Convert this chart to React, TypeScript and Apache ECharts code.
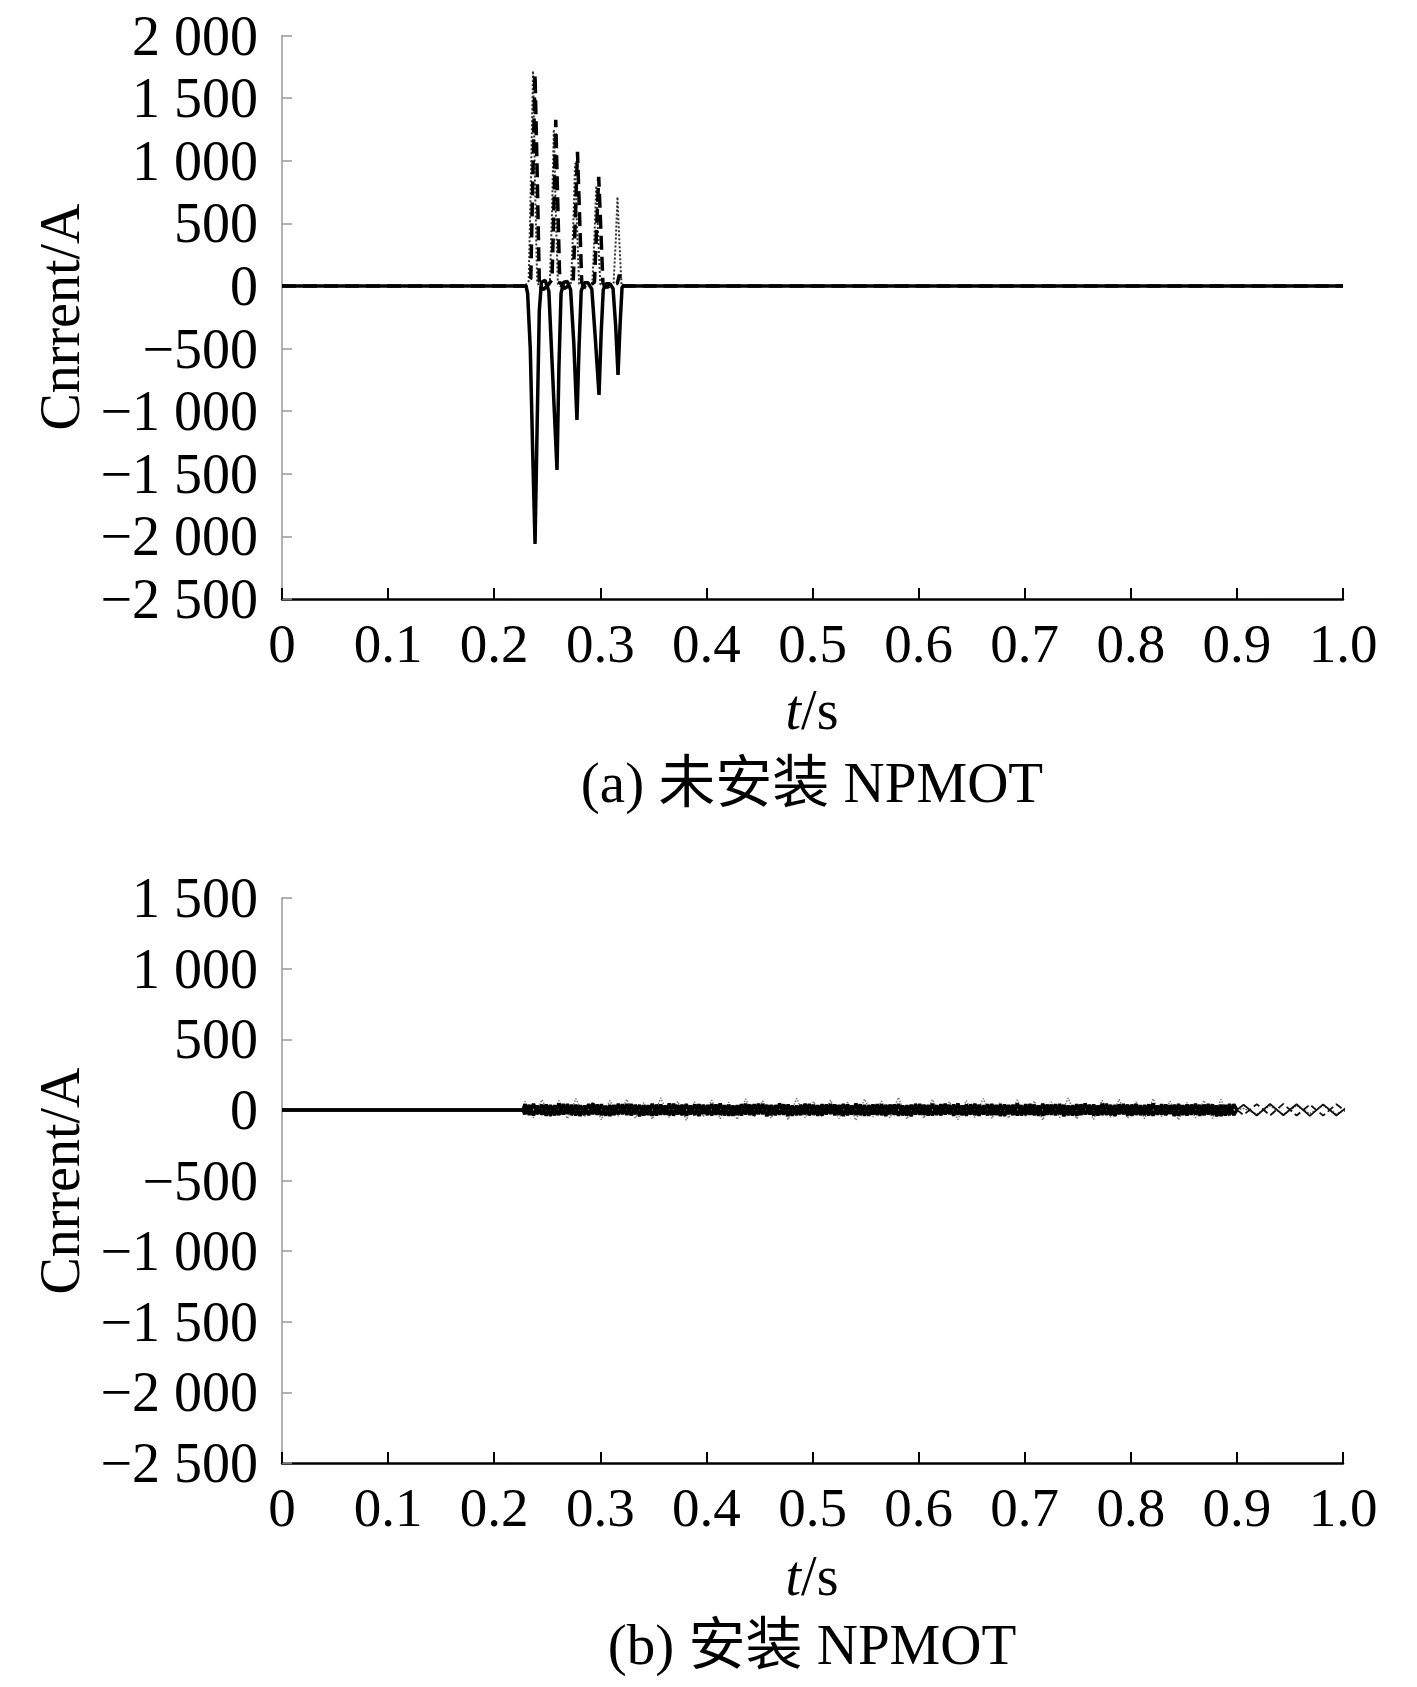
import React, { useEffect, useRef } from "react";
import * as echarts from "echarts";

// ---------- (a) without NPMOT : phase currents [t (s), I (A)] ----------
const TOP_SOLID: [number, number][] = [
  [0, 0], [0.230, 0], [0.2315, -60], [0.2340, -500], [0.2362, -1300], [0.2385, -2060], [0.2405, -1100],
  [0.2425, -200], [0.2445, 30], [0.2480, 45], [0.2515, -40], [0.2545, -600], [0.2592, -1470], [0.2610, -650],
  [0.2630, -60], [0.2655, 30], [0.2690, 35], [0.2720, -30], [0.2750, -450], [0.2780, -1070], [0.2800, -480],
  [0.2820, -40], [0.2850, 25], [0.2885, 25], [0.2920, -25], [0.2950, -380], [0.2988, -870], [0.3008, -380],
  [0.3028, -30], [0.3055, 18], [0.3090, 18], [0.3120, -20], [0.3145, -320], [0.3167, -710], [0.3187, -300],
  [0.3205, -10], [0.3225, 0], [1.0, 0],
];
const TOP_DASHED: [number, number][] = [
  [0, 0], [0.230, 0], [0.2345, 60], [0.2365, 900], [0.2385, 1690], [0.2405, 900], [0.2425, 40], [0.2460, -30],
  [0.2500, 0], [0.2545, 50], [0.2565, 700], [0.2580, 1326], [0.2598, 700], [0.2618, 30], [0.2660, -20],
  [0.2700, 0], [0.2745, 40], [0.2765, 550], [0.2785, 1071], [0.2805, 550], [0.2825, 25], [0.2860, -15],
  [0.2900, 0], [0.2945, 30], [0.2965, 450], [0.2985, 871], [0.3005, 450], [0.3025, 20], [0.3060, -10],
  [0.3100, 0], [0.3160, 20], [0.3180, 90], [0.3200, 10], [0.3220, 0], [1.0, 0],
];
const TOP_DOTTED: [number, number][] = [
  [0, 0], [0.229, 0], [0.2325, 40], [0.2345, 800], [0.2366, 1718], [0.2385, 800], [0.2405, 30], [0.2440, -25],
  [0.2480, 0], [0.2525, 30], [0.2545, 600], [0.2562, 1250], [0.2580, 600], [0.2600, 20], [0.2640, -15],
  [0.2680, 0], [0.2725, 25], [0.2745, 480], [0.2762, 980], [0.2780, 480], [0.2800, 20], [0.2840, -12],
  [0.2880, 0], [0.2925, 20], [0.2945, 400], [0.2962, 800], [0.2980, 400], [0.3000, 15], [0.3040, -8],
  [0.3080, 0], [0.3125, 20], [0.3145, 350], [0.3162, 711], [0.3180, 350], [0.3200, 10], [0.3230, 0], [1.0, 0],
];

// ---------- (b) with NPMOT ----------
const BAND_T0 = 0.229; // first sample of the oscillating band
const BAND_DT = 0.004; // sample spacing of band values (s)
const BAND_SOLID = [
  38, -35, 42, -30, 36, -40, 33, -38, 45, -32, 40, -36,
  35, -42, 30, -37, 44, -33, 39, -41, 34, -36, 43, -30,
  40, -38, 36, -44, 31, -35, 42, -39, 37, -33, 45, -40,
  33, -37, 41, -31, 38, -43, 35, -36, 40, -34, 44, -38,
  36, -41, 32, -39, 43, -35, 38, -30, 41, -44, 34, -37,
  45, -33, 37, -40, 30, -36, 42, -38, 35, -41, 39, -32,
  41, -37, 34, -43, 38, -31, 44, -36, 33, -40, 37, -35,
  39, -42, 36, -34, 41, -38, 32, -45, 40, -33, 35, -39,
  43, -36, 38, -31, 34, -41, 45, -37, 36, -32, 42, -40,
  31, -38, 40, -35, 37, -43, 33, -36, 44, -39, 38, -34,
  36, -40, 42, -33, 35, -37, 41, -44, 30, -38, 39, -36,
  44, -31, 37, -39, 43, -35, 34, -42, 38, -30, 36, -41,
  40, -36, 33, -38, 45, -34, 39, -37, 32, -43, 41, -35,
  37, -33, 42, -40, 36, -31, 38, -44, 35, -39, 40, -37,
];
const BAND_DASHED = [
  -30, 34, -38, 29, -33, 37, -41, 31, -36, 40, -28, 35,
  -39, 32, -34, 41, -30, 36, -37, 28, -42, 33, -31, 38,
  -35, 40, -29, 34, -38, 31, -40, 36, -33, 29, -37, 42,
  -32, 35, -41, 30, -36, 38, -28, 33, -39, 37, -34, 31,
  -40, 29, -35, 39, -31, 36, -38, 42, -30, 34, -37, 32,
  -33, 38, -42, 30, -36, 35, -29, 40, -34, 31, -39, 37,
  -28, 36, -33, 41, -37, 30, -35, 38, -40, 32, -31, 39,
  -36, 34, -30, 37, -41, 29, -38, 35, -32, 40, -34, 33,
  -39, 31, -37, 42, -29, 36, -33, 30, -40, 38, -35, 34,
  -31, 39, -36, 33, -42, 37, -30, 35, -38, 32, -34, 41,
  -37, 30, -40, 36, -33, 39, -29, 34, -36, 31, -41, 38,
  -32, 35, -38, 29, -35, 42, -37, 33, -30, 40, -39, 36,
  -34, 31, -36, 38, -41, 30, -33, 37, -28, 35, -40, 32,
  -38, 36, -31, 34, -37, 40, -35, 29, -42, 33, -36, 39,
];
const BAND_DOTTED_DT = 0.008;
const BAND_DOTTED = [
  60, -55, 72, -48, 65, -62, 80, -50, 58, -70, 66, -45,
  75, -58, 52, -66, 85, -54, 61, -73, 57, -49, 70, -63,
  55, -68, 78, -52, 64, -59, 48, -71, 82, -56, 60, -47,
  69, -61, 53, -74, 77, -50, 62, -57, 88, -65, 51, -60,
  73, -46, 59, -69, 66, -53, 80, -62, 54, -58, 71, -48,
  63, -72, 57, -55, 84, -64, 50, -67, 68, -52, 75, -59,
  56, -63, 79, -49, 61, -70, 52, -57, 67, -61, 74, -54,
];
const ZIG_T0 = 0.9;
const ZIG_DT = 0.0125;
const ZIG_A = [36, -40, 42, -38, 40, -42, 39, -40, 35];
const ZIG_B = [-36, 41, -39, 42, -40, 38, -41, 40, -33];
const ZIG_C = [10, -30, 28, -32, 30, -27, 31, -29, 20];

const X_TICKS_MIN = 0;
const X_TICKS_MAX = 1;
const X_INTERVAL = 0.1;
const Y_TOP = { min: -2500, max: 2000, interval: 500 };
const Y_BOT = { min: -2500, max: 1500, interval: 500 };

const Y_NAME = "Cnrrent/A";
const CAPTION_A = "(a) 未安装 NPMOT";
const CAPTION_B = "(b) 安装 NPMOT";

const FONT = "'Liberation Serif', 'Times New Roman', 'Noto Sans CJK SC', serif";

function fmtY(v: number): string {
  const a = Math.abs(v);
  const s = a >= 1000 ? Math.floor(a / 1000) + " " + String(a % 1000).padStart(3, "0") : String(a);
  return (v < 0 ? "−" : "") + s;
}
function fmtX(v: number): string {
  return Math.abs(v) < 1e-9 ? "0" : v.toFixed(1);
}

function seq(t0: number, dt: number, vals: number[]): [number, number][] {
  return vals.map((v, i) => [t0 + i * dt, v]);
}

export default function App() {
  const ref = useRef<HTMLDivElement>(null);
  useEffect(() => {
    if (!ref.current) return;
    const chart = echarts.init(ref.current, undefined, { renderer: "svg" });

    const botSolid: [number, number][] = [[0, 0], [0.227, 0], ...seq(BAND_T0, BAND_DT, BAND_SOLID), [ZIG_T0, 0]];
    const botDashed: [number, number][] = [[0, 0], [0.227, 0], ...seq(BAND_T0, BAND_DT, BAND_DASHED), [ZIG_T0, 0]];
    const botDotted: [number, number][] = [[0, 0], [0.227, 0], ...seq(BAND_T0, BAND_DOTTED_DT, BAND_DOTTED)];
    const zigA = [[ZIG_T0, 0], ...seq(ZIG_T0 + ZIG_DT / 2, ZIG_DT, ZIG_A)];
    const zigB = [[ZIG_T0, 0], ...seq(ZIG_T0 + ZIG_DT / 2, ZIG_DT, ZIG_B)];
    const zigC = [[ZIG_T0, 0], ...seq(ZIG_T0 + ZIG_DT / 2, ZIG_DT, ZIG_C)];

    const grids = [
      { left: 282, top: 35.5, width: 1061, height: 563.5 },
      { left: 282, top: 898, width: 1061, height: 565 },
    ];
    const xAxis = (gi: number) => ({
      type: "value",
      gridIndex: gi,
      min: X_TICKS_MIN,
      max: X_TICKS_MAX,
      interval: X_INTERVAL,
      axisLine: { show: true, onZero: false, lineStyle: { color: "#000", width: 2.5 } },
      axisTick: { show: true, inside: true, length: 11, lineStyle: { color: "#000", width: 2 } },
      axisLabel: { show: true, margin: 17, formatter: fmtX, color: "#000", fontFamily: FONT, fontSize: 55 },
      splitLine: { show: false },
    });
    const yAxis = (gi: number, r: { min: number; max: number; interval: number }) => ({
      type: "value",
      gridIndex: gi,
      min: r.min,
      max: r.max,
      interval: r.interval,
      axisLine: { show: true, onZero: false, lineStyle: { color: "#999", width: 1.5 } },
      axisTick: { show: true, inside: true, length: 10, lineStyle: { color: "#999", width: 1.5 } },
      axisLabel: { show: true, margin: 24, formatter: fmtY, color: "#000", fontFamily: FONT, fontSize: 56 },
      splitLine: { show: false },
    });
    const line = (gi: number, data: any[], type: string, width: number, color: string, z: number) => ({
      type: "line",
      xAxisIndex: gi,
      yAxisIndex: gi,
      data,
      showSymbol: false,
      symbol: "none",
      z,
      lineStyle: { type, width, color },
      silent: true,
    });

    const texts: any[] = [];
    const addTitle = (x: number, y: number, text: string, size: number, rich?: any, rot = 0) =>
      texts.push({
        type: "text",
        x,
        y,
        rotation: rot,
        style: {
          text,
          rich,
          fill: "#000",
          font: `${size}px ${FONT}`,
          fontFamily: FONT,
          fontSize: size,
          align: "center",
          verticalAlign: "middle",
        },
      });
    const tsRich = {
      i: { fontStyle: "italic", fontFamily: FONT, fontSize: 56, fill: "#000", color: "#000" },
      n: { fontFamily: FONT, fontSize: 56, fill: "#000", color: "#000" },
    };
    addTitle(60, 317, Y_NAME, 56, undefined, Math.PI / 2);
    addTitle(60, 1181, Y_NAME, 56, undefined, Math.PI / 2);
    addTitle(812, 710, "{i|t}{n|/s}", 56, tsRich);
    addTitle(812, 1576, "{i|t}{n|/s}", 56, tsRich);
    addTitle(812, 782, CAPTION_A, 57);
    addTitle(812, 1644, CAPTION_B, 57);

    chart.setOption({
      animation: false,
      backgroundColor: "#fff",
      grid: grids,
      xAxis: [xAxis(0), xAxis(1)],
      yAxis: [yAxis(0, Y_TOP), yAxis(1, Y_BOT)],
      series: [
        line(0, TOP_DOTTED, "dotted", 2, "#333", 2),
        line(0, TOP_DASHED, "dashed", 3.5, "#000", 3),
        line(0, TOP_SOLID, "solid", 3.5, "#000", 4),
        line(1, botDotted, "dotted", 1.5, "#777", 2),
        line(1, botDashed, "solid", 3.5, "#000", 3),
        line(1, botSolid, "solid", 3.5, "#000", 4),
        line(1, zigC, "dotted", 1.5, "#555", 2),
        line(1, zigA, "solid", 1.8, "#111", 3),
        line(1, zigB, "dashed", 1.8, "#111", 3),
      ],
      graphic: texts,
    });
    return () => chart.dispose();
  }, []);
  return <div ref={ref} style={{ position: "absolute", left: 0, top: 0, width: 1417, height: 1687 }} />;
}
